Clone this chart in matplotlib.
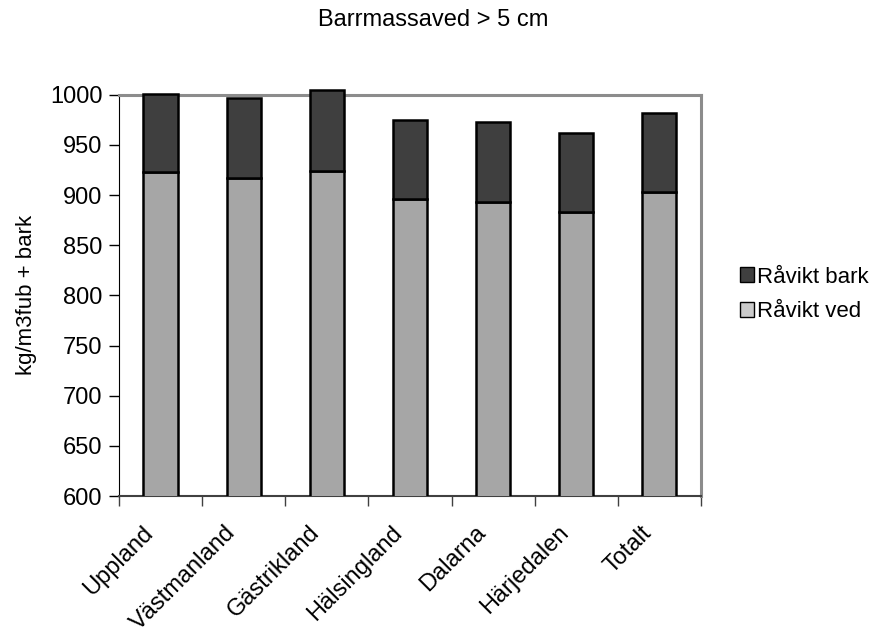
import numpy as np
import matplotlib
matplotlib.use("Agg")
import matplotlib.pyplot as plt
import matplotlib.transforms as mtransforms
from matplotlib.patches import Patch

plt.rcParams['font.family'] = ['Liberation Sans', 'DejaVu Sans']

# Data
landskap = ['Uppland', 'Västmanland', 'Gästrikland', 'Hälsingland',
            'Dalarna', 'Härjedalen', 'Totalt']
ravikt_ved = [923, 917, 924, 896, 893, 883, 903]
ravikt_bark = [78, 80, 81, 79, 80, 79, 79]

fig = plt.figure(figsize=(8.76, 6.33), dpi=100)
ax = fig.add_axes([0.1358, 0.2164, 0.6644, 0.634])

x = np.arange(len(landskap))
ax.bar(x, ravikt_ved, width=0.41, color='#a6a6a6', edgecolor='black',
       linewidth=1.8, zorder=3)
top = ax.bar(x, ravikt_bark, bottom=ravikt_ved, width=0.41, color='#3f3f3f',
             edgecolor='black', linewidth=1.8, zorder=3)
for b in top:
    b.set_clip_on(False)

ax.set_ylim(600, 1000)
ax.set_xlim(-0.5, len(landskap) - 0.5)
ax.set_yticks(range(600, 1001, 50))
ax.set_yticks(range(650, 1000, 50), minor=True)
ax.yaxis.grid(True, which='minor', color='black', linewidth=0.9, zorder=0)
ax.tick_params(axis='y', which='minor', length=0)

# ticks between the categories, labels at the centres
ax.set_xticks(np.arange(-0.5, len(landskap), 1.0))
ax.set_xticklabels([])
ax.set_xticks(x, minor=True)
ax.set_xticklabels(landskap, minor=True, rotation=45, ha='right', va='center',
                   rotation_mode='anchor', fontsize=17)
ax.tick_params(axis='x', which='minor', length=0, pad=24)
shift = mtransforms.ScaledTranslation(-11 / 100, 0, fig.dpi_scale_trans)
for lab in ax.get_xticklabels(minor=True):
    lab.set_transform(lab.get_transform() + shift)
ax.tick_params(axis='x', which='major', length=7, width=1, direction='out', color='#404040')
ax.tick_params(axis='y', which='major', length=7, width=1, direction='out', labelsize=17, pad=5)

for side in ['top', 'right']:
    ax.spines[side].set_color('#8c8c8c')
    ax.spines[side].set_linewidth(2.2)
ax.spines['left'].set_color('black')
ax.spines['bottom'].set_color('#404040')
ax.spines['bottom'].set_linewidth(1.5)

ax.set_ylabel('kg/m3fub + bark', fontsize=16, labelpad=9)
fig.text(0.495, 0.968, 'Barrmassaved > 5 cm', ha='center', va='center', fontsize=17)

handles = [Patch(facecolor='#3f3f3f', edgecolor='black', label='Råvikt bark'),
           Patch(facecolor='#cacaca', edgecolor='black', label='Råvikt ved')]
fig.legend(handles=handles, loc='center left', bbox_to_anchor=(0.832, 0.535),
           frameon=False, fontsize=16, handlelength=0.65, handleheight=0.65,
           handletextpad=0.1, labelspacing=0.6, borderpad=0)

fig.savefig('out.png', dpi=100)
